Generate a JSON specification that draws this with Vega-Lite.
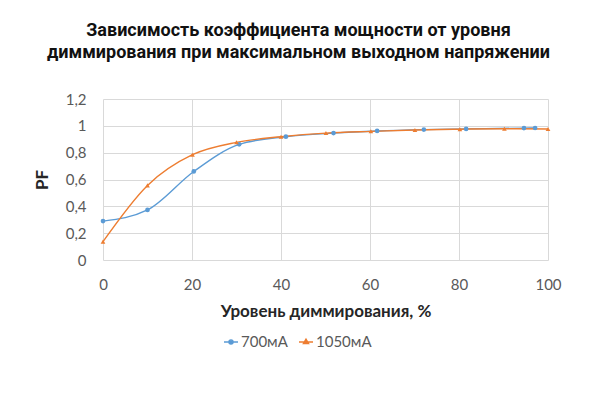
{
  "$schema": "https://vega.github.io/schema/vega-lite/v6.json",
  "autosize": "none",
  "width": 445,
  "height": 161,
  "padding": {"left": 103, "top": 99, "right": 52, "bottom": 140},
  "background": "white",
  "config": {
    "locale": {"number": {"decimal": ",", "thousands": " ", "grouping": [3], "currency": ["", ""]}},
    "view": {"stroke": null},
    "axis": {
      "labelFont": "Lato", "labelFontSize": 15, "labelColor": "#595959", "labelFlush": false,
      "titleFont": "Lato", "titleFontSize": 17, "titleFontWeight": "bold", "titleColor": "#262626",
      "gridColor": "#d9d9d9", "domain": false, "ticks": false
    }
  },
  "title": {
    "text": ["Зависимость коэффициента мощности от уровня", "диммирования при максимальном выходном напряжении"],
    "font": "Roboto", "fontSize": 18, "fontWeight": "bold", "color": "#111111",
    "anchor": "middle", "frame": "group", "dx": -27, "offset": 30, "lineHeight": 22
  },
  "data": {
    "values": [
      {"dim": 0, "pf": 0.29, "series": "700мА"},
      {"dim": 10, "pf": 0.373, "series": "700мА"},
      {"dim": 20.4, "pf": 0.66, "series": "700мА"},
      {"dim": 30.6, "pf": 0.862, "series": "700мА"},
      {"dim": 41.1, "pf": 0.919, "series": "700мА"},
      {"dim": 51.8, "pf": 0.946, "series": "700мА"},
      {"dim": 61.6, "pf": 0.962, "series": "700мА"},
      {"dim": 72.1, "pf": 0.972, "series": "700мА"},
      {"dim": 81.6, "pf": 0.977, "series": "700мА"},
      {"dim": 94.6, "pf": 0.983, "series": "700мА"},
      {"dim": 97.1, "pf": 0.984, "series": "700мА"},
      {"dim": 0, "pf": 0.137, "series": "1050мА"},
      {"dim": 10, "pf": 0.556, "series": "1050мА"},
      {"dim": 20.1, "pf": 0.785, "series": "1050мА"},
      {"dim": 30, "pf": 0.877, "series": "1050мА"},
      {"dim": 40, "pf": 0.919, "series": "1050мА"},
      {"dim": 50.1, "pf": 0.946, "series": "1050мА"},
      {"dim": 60.2, "pf": 0.959, "series": "1050мА"},
      {"dim": 70.1, "pf": 0.969, "series": "1050мА"},
      {"dim": 80.2, "pf": 0.975, "series": "1050мА"},
      {"dim": 90.2, "pf": 0.978, "series": "1050мА"},
      {"dim": 100, "pf": 0.976, "series": "1050мА"}
    ]
  },
  "encoding": {
    "x": {
      "field": "dim", "type": "quantitative",
      "title": "Уровень диммирования, %",
      "scale": {"domain": [0, 100], "nice": false},
      "axis": {"values": [0, 20, 40, 60, 80, 100], "labelPadding": 17, "titlePadding": 11}
    },
    "y": {
      "field": "pf", "type": "quantitative",
      "title": "PF",
      "scale": {"domain": [0, 1.2], "nice": false},
      "axis": {"values": [0, 0.2, 0.4, 0.6, 0.8, 1, 1.2], "format": ".1~f", "labelPadding": 17, "titlePadding": 14}
    },
    "color": {
      "field": "series", "type": "nominal", "title": null,
      "scale": {"domain": ["700мА", "1050мА"], "range": ["#5B9BD5", "#ED7D31"]},
      "legend": {
        "orient": "none", "legendX": 120, "legendY": 235, "direction": "horizontal",
        "padding": 0, "symbolSize": 196, "symbolStrokeWidth": 1.3,
        "labelFont": "Lato", "labelFontSize": 15, "labelColor": "#595959",
        "labelOffset": 2, "columnPadding": 8,
        "encode": {
          "symbols": {
            "update": {
              "shape": {"signal": "datum.value === '700мА' ? 'M-1,0H1M-0.3,0A0.3,0.3 0 1,1 0.3,0A0.3,0.3 0 1,1 -0.3,0Z' : 'M-1,0H1M0,-0.42L0.38,0.24L-0.38,0.24Z'"},
              "fill": {"scale": "color", "field": "value"},
              "stroke": {"scale": "color", "field": "value"},
              "opacity": {"value": 1}
            }
          }
        }
      }
    }
  },
  "layer": [
    {
      "mark": {"type": "line", "interpolate": "monotone", "strokeWidth": 1.4},
      "encoding": {"detail": {"field": "series"}}
    },
    {
      "transform": [{"filter": "datum.series === '700мА'"}],
      "mark": {"type": "point", "shape": "circle", "filled": true, "size": 22, "opacity": 1}
    },
    {
      "transform": [{"filter": "datum.series === '1050мА'"}],
      "mark": {"type": "point", "shape": "triangle-up", "filled": true, "size": 22, "opacity": 1}
    }
  ]
}
